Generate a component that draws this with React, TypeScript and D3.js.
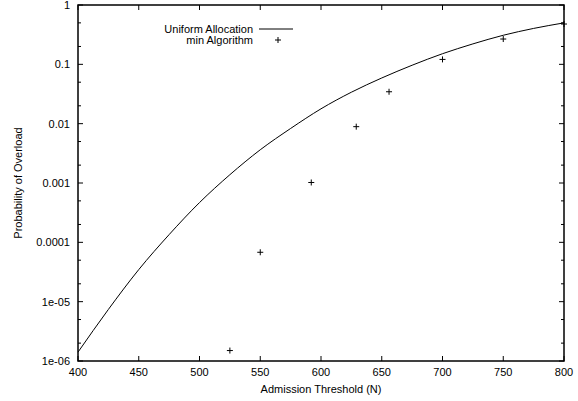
import React from "react";
import * as d3 from "d3";

const uniformX = [400, 425, 450, 475, 500, 525, 550, 575, 600, 625, 650, 675, 700, 725, 750, 775, 800];
const uniformY = [1.41e-6, 7.4e-6, 3.47e-5, 1.35e-4, 4.68e-4, 1.38e-3, 3.63e-3, 8.3e-3, 0.0178, 0.0339, 0.0589, 0.0966, 0.151, 0.221, 0.309, 0.403, 0.5];

const minX = [525, 550, 592, 629, 656, 700, 750, 800];
const minY = [1.5e-6, 6.8e-5, 1.02e-3, 0.0089, 0.0345, 0.121, 0.267, 0.478];

const xTicks = [400, 450, 500, 550, 600, 650, 700, 750, 800];
const yTicks = [1e-6, 1e-5, 1e-4, 1e-3, 1e-2, 0.1, 1];
const yTickLabels = ["1e-06", "1e-05", "0.0001", "0.001", "0.01", "0.1", "1"];
const yMinorMultipliers = [2, 5];

const seriesNames = ["Uniform Allocation", "min Algorithm"];
const xTitle = "Admission Threshold (N)";
const yTitle = "Probability of Overload";

export default function App() {
  const W = 578, H = 401;
  const left = 78, right = 564, top = 5, bottom = 361;
  const x = d3.scaleLinear().domain([400, 800]).range([left, right]);
  const y = d3.scaleLog().domain([1e-6, 1]).range([bottom, top]);

  const line = d3
    .line<number>()
    .x((_, i) => x(uniformX[i]))
    .y((d) => y(d))
    .curve(d3.curveMonotoneX);

  const minor: number[] = [];
  for (let i = 0; i < yTicks.length - 1; i++) {
    for (const m of yMinorMultipliers) minor.push(yTicks[i] * m);
  }

  const font = "'Liberation Sans', Arial, Helvetica, sans-serif";
  const fs = 11;

  return (
    <svg width={W} height={H} style={{ position: "absolute", left: 0, top: 0, background: "#fff" }} fontFamily={font}>
      <rect x={0} y={0} width={W} height={H} fill="#fff" />
      {xTicks.map((t) => (
        <g key={"x" + t}>
          <line x1={x(t)} x2={x(t)} y1={bottom} y2={bottom - 5} stroke="#000" strokeWidth={1} />
          <line x1={x(t)} x2={x(t)} y1={top} y2={top + 5} stroke="#000" strokeWidth={1} />
          <text x={x(t)} y={376} textAnchor="middle" fontSize={fs} fill="#000">{t}</text>
        </g>
      ))}
      {yTicks.map((t, i) => (
        <g key={"y" + t}>
          <line x1={left} x2={left + 5} y1={y(t)} y2={y(t)} stroke="#000" strokeWidth={1} />
          <line x1={right} x2={right - 5} y1={y(t)} y2={y(t)} stroke="#000" strokeWidth={1} />
          <text x={70} y={y(t) + 4} textAnchor="end" fontSize={fs} fill="#000">{yTickLabels[i]}</text>
        </g>
      ))}
      {minor.map((t) => (
        <g key={"m" + t}>
          <line x1={left} x2={left + 3} y1={y(t)} y2={y(t)} stroke="#000" strokeWidth={1} />
          <line x1={right} x2={right - 3} y1={y(t)} y2={y(t)} stroke="#000" strokeWidth={1} />
        </g>
      ))}
      <rect x={left} y={top} width={right - left} height={bottom - top} fill="none" stroke="#000" strokeWidth={1.5} />
      <path d={line(uniformY) || ""} fill="none" stroke="#000" strokeWidth={1} />
      {minX.map((v, i) => {
        const cx = x(v), cy = y(minY[i]);
        return (
          <g key={"p" + v} stroke="#000" strokeWidth={1}>
            <line x1={cx - 3} x2={cx + 3} y1={cy} y2={cy} />
            <line x1={cx} x2={cx} y1={cy - 3} y2={cy + 3} />
          </g>
        );
      })}
      <text x={253} y={33} textAnchor="end" fontSize={fs} fill="#000">{seriesNames[0]}</text>
      <line x1={259} x2={293} y1={29} y2={29} stroke="#000" strokeWidth={1} />
      <text x={253} y={44} textAnchor="end" fontSize={fs} fill="#000">{seriesNames[1]}</text>
      <g stroke="#000" strokeWidth={1}>
        <line x1={275} x2={281} y1={40} y2={40} />
        <line x1={278} x2={278} y1={37} y2={43} />
      </g>
      <text x={(left + right) / 2} y={393} textAnchor="middle" fontSize={fs} fill="#000">{xTitle}</text>
      <text transform={`translate(22,${(top + bottom) / 2}) rotate(-90)`} textAnchor="middle" fontSize={fs} fill="#000">{yTitle}</text>
    </svg>
  );
}
